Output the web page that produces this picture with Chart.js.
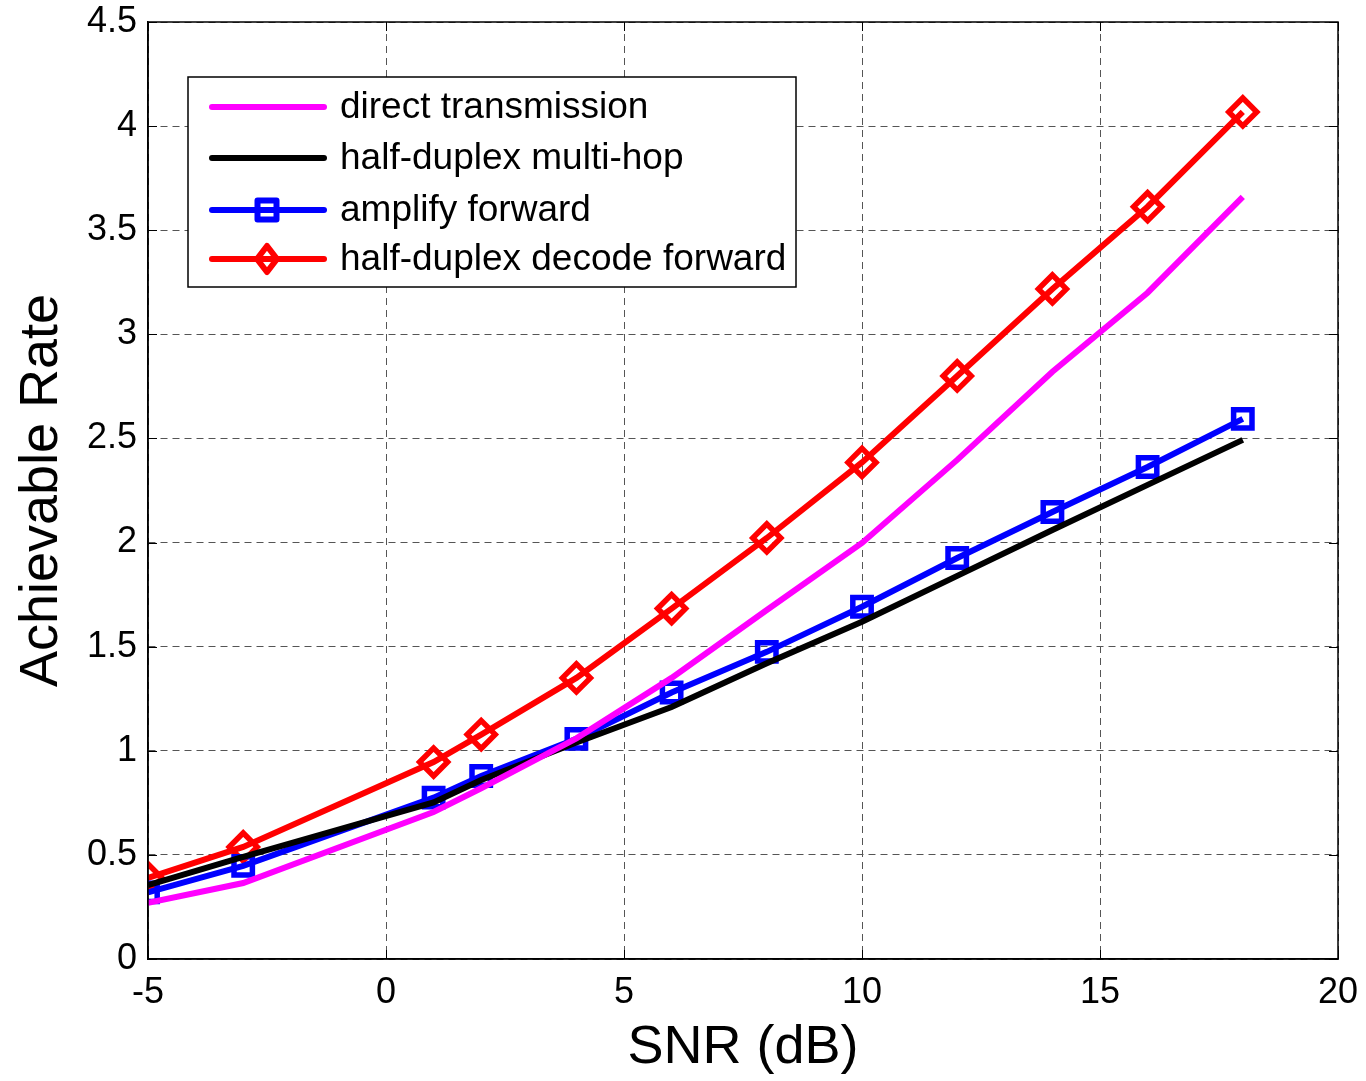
<!DOCTYPE html>
<html>
<head>
<meta charset="utf-8">
<script src="https://cdn.jsdelivr.net/npm/chart.js@4.4.1/dist/chart.umd.min.js"></script>
<style>
  html, body { margin: 0; padding: 0; background: #fff; }
  #wrap { width: 1366px; height: 1081px; }
</style>
</head>
<body>
<div id="wrap"><canvas id="rateChart" width="1366" height="1081"></canvas></div>
<script>
/* ─── Data ─────────────────────────────────────── */
const snr          = [-5, -3, 1, 2, 4, 6, 8, 10, 12, 14, 16, 18];
const directTx     = [0.27, 0.365, 0.706, 0.82, 1.06, 1.35, 1.676, 1.998, 2.397, 2.82, 3.2, 3.66];
const halfMultiHop = [0.355, 0.49, 0.752, 0.86, 1.04, 1.21, 1.42, 1.62, 1.84, 2.06, 2.277, 2.493];
const amplifyFwd   = [0.32, 0.447, 0.775, 0.879, 1.057, 1.28, 1.475, 1.692, 1.926, 2.147, 2.363, 2.594];
const decodeFwd    = [0.389, 0.538, 0.946, 1.078, 1.35, 1.683, 2.022, 2.385, 2.8, 3.218, 3.613, 4.068];

const seriesLabels = ['direct transmission', 'half-duplex multi-hop', 'amplify forward', 'half-duplex decode forward'];
const xTicks = [-5, 0, 5, 10, 15, 20];
const yTicks = [0, 0.5, 1, 1.5, 2, 2.5, 3, 3.5, 4, 4.5];

const FONT = "'Liberation Sans', Arial, sans-serif";
Chart.defaults.font.family = FONT;
Chart.defaults.color = '#000';

const pts = ys => snr.map((x, i) => ({ x, y: ys[i] }));

/* ─── Axes box + inward ticks (MATLAB look) ────── */
const boxPlugin = {
  id: 'boxPlugin',
  afterDatasetsDraw(chart) {
    const { ctx, chartArea: a, scales } = chart;
    ctx.save();
    ctx.strokeStyle = '#000';
    ctx.lineWidth = 1.5;
    ctx.setLineDash([]);
    ctx.strokeRect(a.left, a.top, a.right - a.left, a.bottom - a.top);
    ctx.lineWidth = 1;
    const tl = 9;
    xTicks.forEach(v => {
      const px = Math.round(scales.x.getPixelForValue(v)) + 0.5;
      ctx.beginPath();
      ctx.moveTo(px, a.bottom); ctx.lineTo(px, a.bottom - tl);
      ctx.moveTo(px, a.top);    ctx.lineTo(px, a.top + tl);
      ctx.stroke();
    });
    yTicks.forEach(v => {
      const py = Math.round(scales.y.getPixelForValue(v)) + 0.5;
      ctx.beginPath();
      ctx.moveTo(a.left, py);  ctx.lineTo(a.left + tl, py);
      ctx.moveTo(a.right, py); ctx.lineTo(a.right - tl, py);
      ctx.stroke();
    });
    ctx.restore();
  }
};

/* ─── Legend box drawn inside the plot ─────────── */
const legendPlugin = {
  id: 'legendPlugin',
  afterDraw(chart) {
    const { ctx } = chart;
    const bx = 188, by = 77, bw = 608, bh = 210;
    const rows = [107, 158, 210, 259];
    ctx.save();
    ctx.fillStyle = '#fff';
    ctx.fillRect(bx, by, bw, bh);
    ctx.strokeStyle = '#000';
    ctx.lineWidth = 1.5;
    ctx.strokeRect(bx, by, bw, bh);

    chart.data.datasets.forEach((ds, i) => {
      const y = rows[i];
      ctx.strokeStyle = ds.borderColor;
      ctx.lineWidth = 6;
      ctx.lineCap = 'round';
      ctx.beginPath();
      ctx.moveTo(212, y); ctx.lineTo(324, y);
      ctx.stroke();
      if (ds.pointRadius > 0) {
        ctx.lineWidth = 6;
        ctx.lineCap = 'butt';
        ctx.lineJoin = 'round';
        ctx.strokeStyle = ds.borderColor;
        ctx.beginPath();
        if (ds.pointStyle === 'rect') {
          ctx.rect(267 - 9.5, y - 9.5, 19, 19);
        } else {
          ctx.moveTo(267, y - 13); ctx.lineTo(277, y);
          ctx.lineTo(267, y + 13); ctx.lineTo(257, y);
          ctx.closePath();
        }
        ctx.stroke();
      }
      ctx.fillStyle = '#000';
      ctx.font = '37px ' + FONT;
      ctx.textBaseline = 'middle';
      ctx.textAlign = 'left';
      ctx.fillText(ds.label, 340, y + 1);
    });
    ctx.restore();
  }
};

/* ─── Chart ────────────────────────────────────── */
const lineBase = {
  fill: false,
  borderWidth: 6,
  tension: 0,
  pointBackgroundColor: 'transparent',
  pointBorderWidth: 5.5
};

new Chart(document.getElementById('rateChart').getContext('2d'), {
  type: 'line',
  data: {
    datasets: [
      { ...lineBase, label: seriesLabels[0], data: pts(directTx),     borderColor: '#ff00ff', pointRadius: 0 },
      { ...lineBase, label: seriesLabels[1], data: pts(halfMultiHop), borderColor: '#000000', pointRadius: 0 },
      { ...lineBase, label: seriesLabels[2], data: pts(amplifyFwd),   borderColor: '#0000ff', pointBorderColor: '#0000ff',
        pointStyle: 'rect', pointRadius: 13 },
      { ...lineBase, label: seriesLabels[3], data: pts(decodeFwd),    borderColor: '#ff0000', pointBorderColor: '#ff0000',
        pointStyle: 'rectRot', pointRadius: 14 }
    ]
  },
  options: {
    responsive: false,
    animation: false,
    devicePixelRatio: 1,
    layout: { padding: { left: 0, right: 28, top: 22, bottom: 0 } },
    plugins: {
      legend:  { display: false },
      tooltip: { enabled: false }
    },
    scales: {
      x: {
        type: 'linear',
        min: -5, max: 20,
        afterBuildTicks: s => { s.ticks = xTicks.map(v => ({ value: v })); },
        afterFit: s => { s.height = 122; s.paddingLeft = 0; s.paddingRight = 0; },
        grid:   { color: '#555', lineWidth: 1, drawTicks: false },
        border: { display: true, color: '#000', width: 1.5, dash: [7, 5] },
        ticks:  { font: { size: 36 }, color: '#000', padding: 12, maxRotation: 0, callback: v => String(v) },
        title:  { display: true, text: 'SNR (dB)', font: { size: 54 }, color: '#000', padding: { top: 0, bottom: 0 } }
      },
      y: {
        min: 0, max: 4.5,
        afterBuildTicks: s => { s.ticks = yTicks.map(v => ({ value: v })); },
        afterFit: s => { s.width = 148; s.paddingTop = 0; s.paddingBottom = 0; },
        grid:   { color: '#555', lineWidth: 1, drawTicks: false },
        border: { display: true, color: '#000', width: 1.5, dash: [7, 5] },
        ticks:  { font: { size: 36 }, color: '#000', padding: 11, callback: v => String(v) },
        title:  { display: true, text: 'Achievable Rate', font: { size: 54 }, color: '#000', padding: { top: 10, bottom: 0 } }
      }
    }
  },
  plugins: [boxPlugin, legendPlugin]
});
</script>
</body>
</html>
